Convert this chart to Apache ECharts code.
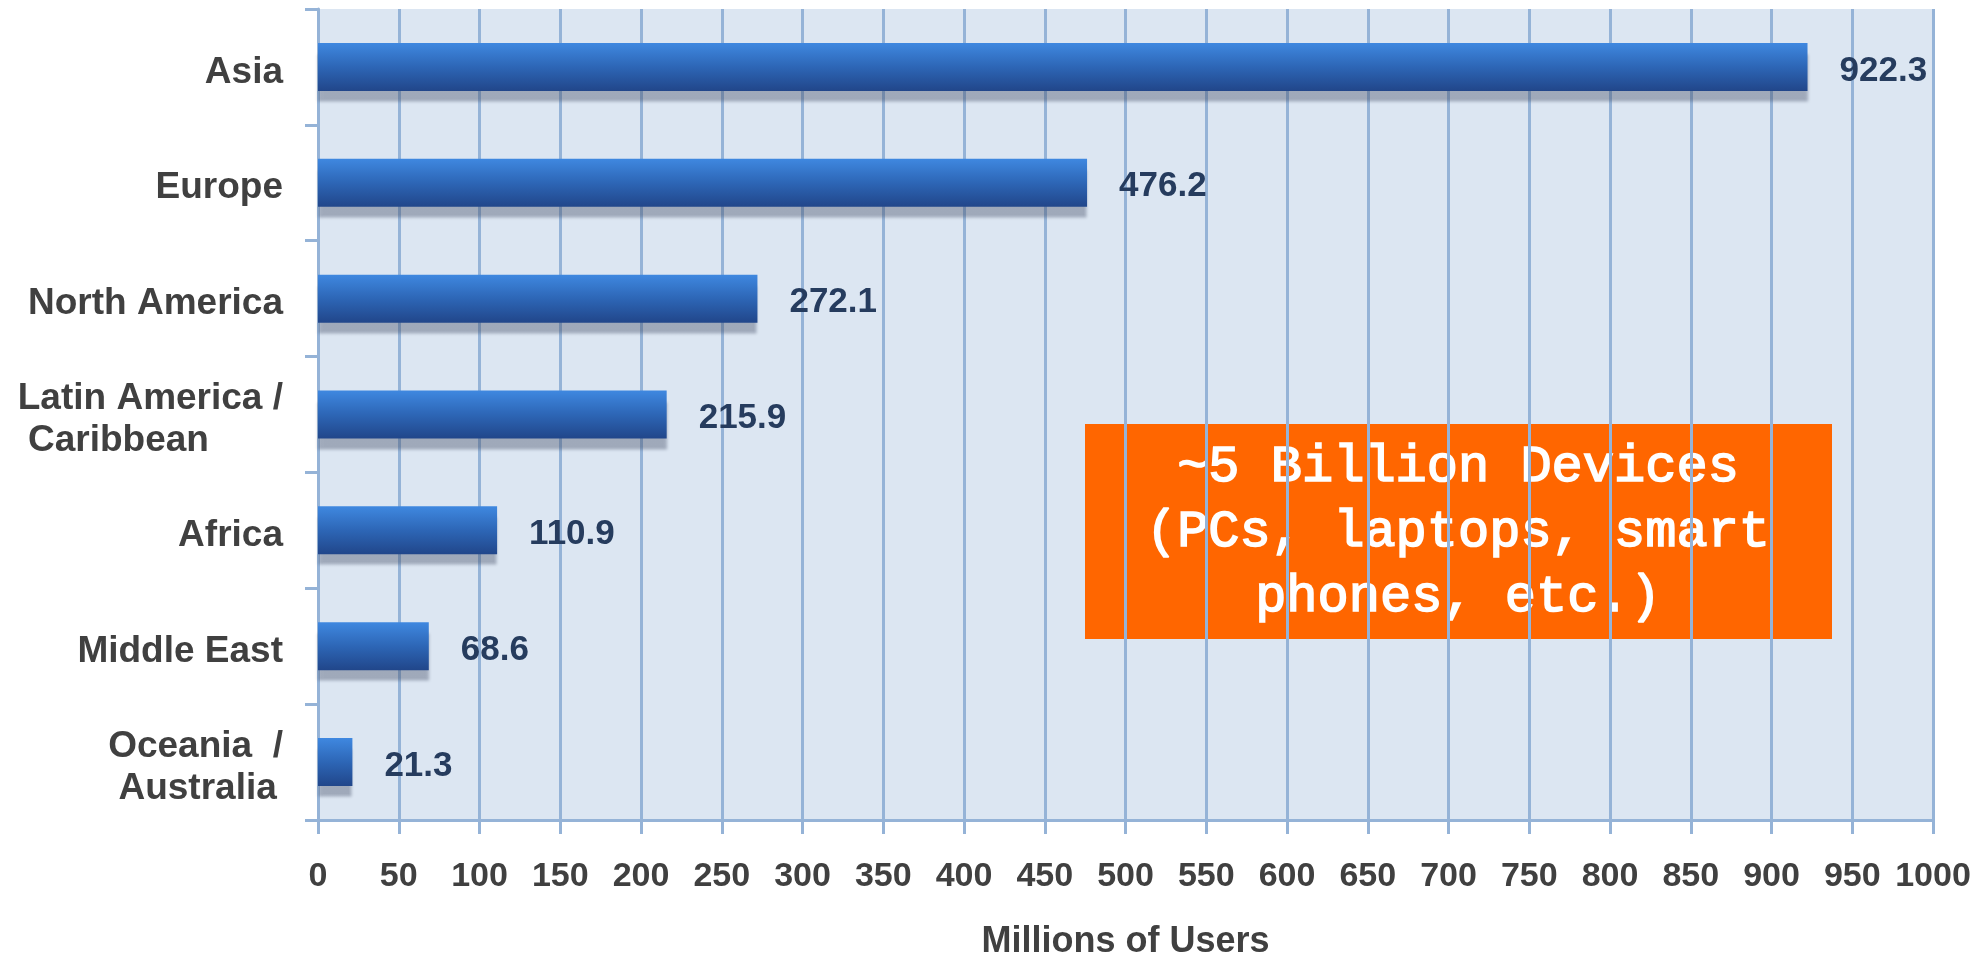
<!DOCTYPE html>
<html>
<head>
<meta charset="utf-8">
<script src="https://cdn.jsdelivr.net/npm/echarts@6/dist/echarts.min.js"></script>
<style>
html,body{margin:0;padding:0;background:#fff;}
#chart{width:1985px;height:953px;}
</style>
</head>
<body>
<div id="chart"></div>
<script>
const categories = ['Asia', 'Europe', 'North America', 'Latin America /\n Caribbean', 'Africa', 'Middle East', 'Oceania  /\n Australia'];
const users = [922.3, 476.2, 272.1, 215.9, 110.9, 68.6, 21.3];
const xTicks = [0, 50, 100, 150, 200, 250, 300, 350, 400, 450, 500, 550, 600, 650, 700, 750, 800, 850, 900, 950, 1000];
const axisTitle = 'Millions of Users';
const noteLines = ['~5 Billion Devices', '(PCs, laptops, smart', 'phones, etc.)'];

const gridColor = '#95b3d7';
const sans = '"Liberation Sans", Arial, sans-serif';

const chart = echarts.init(document.getElementById('chart'));
chart.setOption({
  animation: false,
  grid: {
    left: 318, right: 52, top: 9, bottom: 133,
    containLabel: false,
    outerBoundsMode: 'none',
    show: true, backgroundColor: '#dce6f2', borderWidth: 0
  },
  xAxis: {
    type: 'value',
    min: xTicks[0], max: xTicks[xTicks.length - 1], interval: 50,
    name: axisTitle,
    nameLocation: 'middle',
    nameGap: 104,
    nameTextStyle: { fontFamily: sans, fontWeight: 'bold', fontSize: 36, color: '#404040' },
    axisLine: { show: true, lineStyle: { color: gridColor, width: 3 } },
    axisTick: { show: true, length: 14, lineStyle: { color: gridColor, width: 3 } },
    axisLabel: {
      margin: 40, fontFamily: sans, fontWeight: 'bold', fontSize: 34, color: '#404040',
      formatter: v => String(v)
    },
    splitLine: { show: true, lineStyle: { color: gridColor, width: 3 } }
  },
  yAxis: {
    type: 'category',
    inverse: true,
    data: categories,
    axisLine: { show: true, lineStyle: { color: gridColor, width: 3 } },
    axisTick: { show: true, length: 13, lineStyle: { color: gridColor, width: 3 } },
    axisLabel: {
      margin: 35,
      padding: [11, 0, 0, 0],
      formatter: v => v.split('\n').map(s => '{l|' + s + '}').join('\n'),
      rich: {
        l: { fontFamily: sans, fontWeight: 'bold', fontSize: 37, color: '#404040', align: 'left', lineHeight: 42 }
      }
    },
    splitLine: { show: false }
  },
  series: [{
    type: 'bar',
    data: users,
    barWidth: 48,
    itemStyle: {
      color: new echarts.graphic.LinearGradient(0, 0, 0, 1, [
        { offset: 0, color: '#3f88e0' },
        { offset: 0.5, color: '#2d66b6' },
        { offset: 1, color: '#21468a' }
      ]),
      shadowColor: 'rgba(60,70,95,0.38)',
      shadowOffsetY: 11,
      shadowBlur: 3
    },
    label: {
      show: true,
      position: 'right',
      distance: 32,
      offset: [0, 4],
      fontFamily: sans,
      fontWeight: 'bold',
      fontSize: 35,
      color: '#263c5e',
      formatter: p => p.value.toFixed(1)
    }
  }],
  graphic: [{
    type: 'group',
    left: 1085, top: 424,
    children: [
      { type: 'rect', shape: { x: 0, y: 0, width: 747, height: 215 }, style: { fill: '#ff6600' } },
      {
        type: 'text',
        x: 373, y: 108,
        style: {
          text: noteLines.join('\n'),
          fill: '#ffffff',
          stroke: '#ffffff',
          lineWidth: 1.6,
          font: '52px "Liberation Mono", "Courier New", monospace',
          lineHeight: 65,
          align: 'center',
          verticalAlign: 'middle'
        }
      }
    ]
  }]
});
</script>
</body>
</html>
